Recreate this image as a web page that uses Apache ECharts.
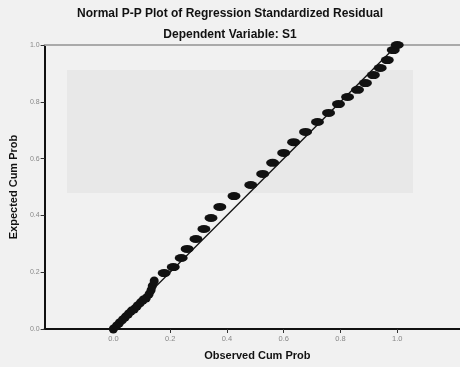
<!DOCTYPE html>
<html><head><meta charset="utf-8">
<script src="https://cdn.jsdelivr.net/npm/echarts@6/dist/echarts.min.js"></script>
<style>html,body{margin:0;padding:0;background:#f1f1f1}#c{width:460px;height:367px}</style>
</head><body><div id="c"></div>
<script>
const titleText = "Normal P-P Plot of Regression Standardized Residual";
const subtitleText = "Dependent Variable: S1";
const xName = "Observed Cum Prob";
const yName = "Expected Cum Prob";
const tickValues = [0, 0.2, 0.4, 0.6, 0.8, 1.0];
const tickLabels = ["0.0", "0.2", "0.4", "0.6", "0.8", "1.0"];
// dense lower band of points [observed, expected]
const bandObserved = [0, 0.011, 0.021, 0.032, 0.042, 0.053, 0.063, 0.074, 0.084, 0.095, 0.105, 0.116, 0.126, 0.133, 0.137, 0.144];
const bandExpected = [0, 0.011, 0.021, 0.032, 0.042, 0.053, 0.063, 0.070, 0.081, 0.092, 0.102, 0.109, 0.123, 0.137, 0.151, 0.169];
// clustered blobs
const blobObserved = [0.179, 0.211, 0.239, 0.260, 0.291, 0.319, 0.344, 0.375, 0.425, 0.484, 0.526, 0.561, 0.600, 0.635, 0.677, 0.719, 0.758, 0.793, 0.825, 0.860, 0.888, 0.916, 0.940, 0.965, 0.986, 1.0];
const blobExpected = [0.197, 0.218, 0.250, 0.282, 0.317, 0.352, 0.391, 0.430, 0.468, 0.507, 0.546, 0.585, 0.620, 0.658, 0.694, 0.729, 0.761, 0.792, 0.817, 0.842, 0.866, 0.894, 0.919, 0.947, 0.982, 1.0];
const refLine = [[0, 0], [1, 1]];

const chart = echarts.init(document.getElementById('c'));
const fam = '"Liberation Sans", Arial, sans-serif';
chart.setOption({
  backgroundColor: '#f1f1f1',
  animation: false,
  title: [
    {text: titleText, left: 'center', top: 3, textStyle: {fontFamily: fam, fontSize: 12, fontWeight: 'bold', color: '#111'}},
    {text: subtitleText, left: 'center', top: 24, textStyle: {fontFamily: fam, fontSize: 12, fontWeight: 'bold', color: '#111'}}
  ],
  graphic: [
    {type: 'rect', z: -1, shape: {x: 67, y: 70, width: 346, height: 123}, style: {fill: '#e8e8e8'}, silent: true}
  ],
  grid: {left: 43, right: 0, top: 45, bottom: 38},
  xAxis: [{
    type: 'value', min: -0.242, max: 1.221,
    name: xName, nameLocation: 'middle', nameGap: 21,
    nameTextStyle: {fontFamily: fam, fontSize: 11, fontWeight: 'bold', color: '#111', padding: [0, 0, 0, 10]},
    axisLine: {onZero: false, lineStyle: {color: '#111', width: 2}},
    axisTick: {customValues: tickValues, length: 4, lineStyle: {color: '#333'}},
    axisLabel: {customValues: tickValues, formatter: v => tickLabels[tickValues.indexOf(Math.round(v * 10) / 10)] || '', fontFamily: fam, fontSize: 7.5, color: '#888', margin: 6},
    splitLine: {show: false}
  }, {
    type: 'value', min: -0.242, max: 1.221, position: 'top',
    axisLine: {onZero: false, lineStyle: {color: '#aaa', width: 2}},
    axisTick: {show: false}, axisLabel: {show: false}, splitLine: {show: false}
  }],
  yAxis: {
    type: 'value', min: 0, max: 1, interval: 0.2,
    name: yName, nameLocation: 'middle', nameGap: 25,
    nameTextStyle: {fontFamily: fam, fontSize: 11, fontWeight: 'bold', color: '#111'},
    axisLine: {onZero: false, lineStyle: {color: '#111', width: 2}},
    axisTick: {length: 4, lineStyle: {color: '#333'}},
    axisLabel: {formatter: v => v.toFixed(1), fontFamily: fam, fontSize: 7, color: '#888', margin: 5},
    splitLine: {show: false}
  },
  series: [
    {type: 'line', data: refLine, symbol: 'none', lineStyle: {color: '#111', width: 1.3}, z: 2},
    {type: 'scatter', data: bandObserved.map((x, i) => [x, bandExpected[i]]), symbol: 'circle', symbolSize: [9, 9], itemStyle: {color: '#111', opacity: 1}, z: 3},
    {type: 'scatter', data: blobObserved.map((x, i) => [x, blobExpected[i]]), symbol: 'circle', symbolSize: [13, 8], itemStyle: {color: '#111', opacity: 1}, z: 3}
  ]
});
</script></body></html>
